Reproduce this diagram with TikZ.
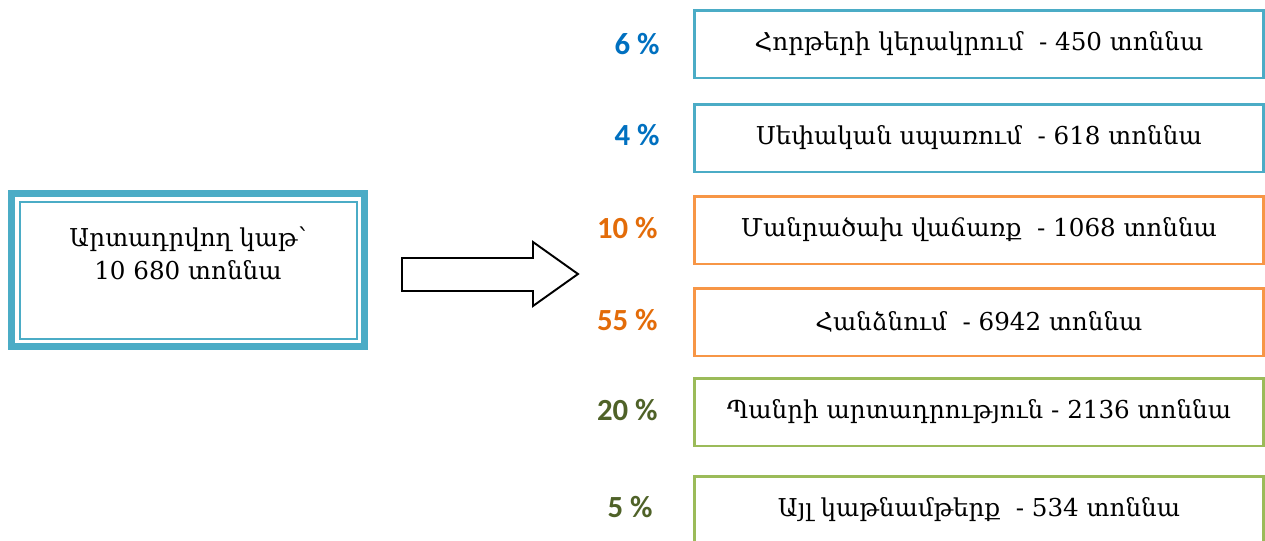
\documentclass[tikz,border=0pt]{standalone}
\usepackage{fontspec}
\setmainfont{DejaVu Serif}
\newfontfamily\pctfont{Carlito}
\usetikzlibrary{positioning}
\definecolor{tealb}{HTML}{4BACC6}
\definecolor{orangeb}{HTML}{F79646}
\definecolor{greenb}{HTML}{9BBB59}
\definecolor{bluep}{HTML}{0070C0}
\definecolor{orangep}{HTML}{E36C09}
\definecolor{greenp}{HTML}{4F6228}
\tikzstyle{share} = [
    rectangle, minimum width=11.38cm, minimum height=1.36cm, text centered,
    line width=1.7pt, fill=white, font=\fontsize{14}{16}\selectfont
]
\tikzstyle{pct} = [anchor=east, inner sep=0pt,
    font=\pctfont\bfseries\fontsize{17.5}{19}\selectfont]
\tikzstyle{blockarrow} = [line width=1.1pt, fill=white, line join=miter]

\begin{document}
\begin{tikzpicture}[x=0.02cm, y=-0.02cm]
        \useasboundingbox (0,0) rectangle (1265,541);
        \clip (0,0) rectangle (1265,541);
        \node (milk) [rectangle, draw=tealb, line width=4pt,
            minimum width=7.06cm, minimum height=3.06cm] at (188,270) {};
        \draw [tealb, line width=1.4pt]
            ([shift={(0.24cm,-0.24cm)}]milk.north west)
            rectangle ([shift={(-0.22cm,0.22cm)}]milk.south east);
        \node (milktext) [align=center, font=\fontsize{14}{18.8}\selectfont]
            at (188,253) {Արտադրվող կաթ՝\\10 680 տոննա};

        \node (calves) [share, draw=tealb] at (979,44)
            {Հորթերի կերակրում \ - 450 տոննա};
        \node (own) [share, draw=tealb] at (979,138)
            {Սեփական սպառում \ - 618 տոննա};
        \node (retail) [share, draw=orangeb] at (979,230)
            {Մանրածախ վաճառք \ - 1068 տոննա};
        \node (delivery) [share, draw=orangeb] at (979,322)
            {Հանձնում \ - 6942 տոննա};
        \node (cheese) [share, draw=greenb] at (979,412)
            {Պանրի արտադրություն - 2136 տոննա};
        \node (dairy) [share, draw=greenb] at (979,510)
            {Այլ կաթնամթերք \ - 534 տոննա};

        \node (p1) [pct, text=bluep] at (660,44) {6 \%};
        \node (p2) [pct, text=bluep] at (660,135) {4 \%};
        \node (p3) [pct, text=orangep] at (658,228) {10 \%};
        \node (p4) [pct, text=orangep] at (658,320) {55 \%};
        \node (p5) [pct, text=greenp] at (658,410) {20 \%};
        \node (p6) [pct, text=greenp] at (653,507) {5 \%};

        \draw [blockarrow] (402,258) -- (533,258) -- (533,242) -- (578,274)
            -- (533,306) -- (533,291) -- (402,291) -- cycle;
    \end{tikzpicture}
\end{document}
